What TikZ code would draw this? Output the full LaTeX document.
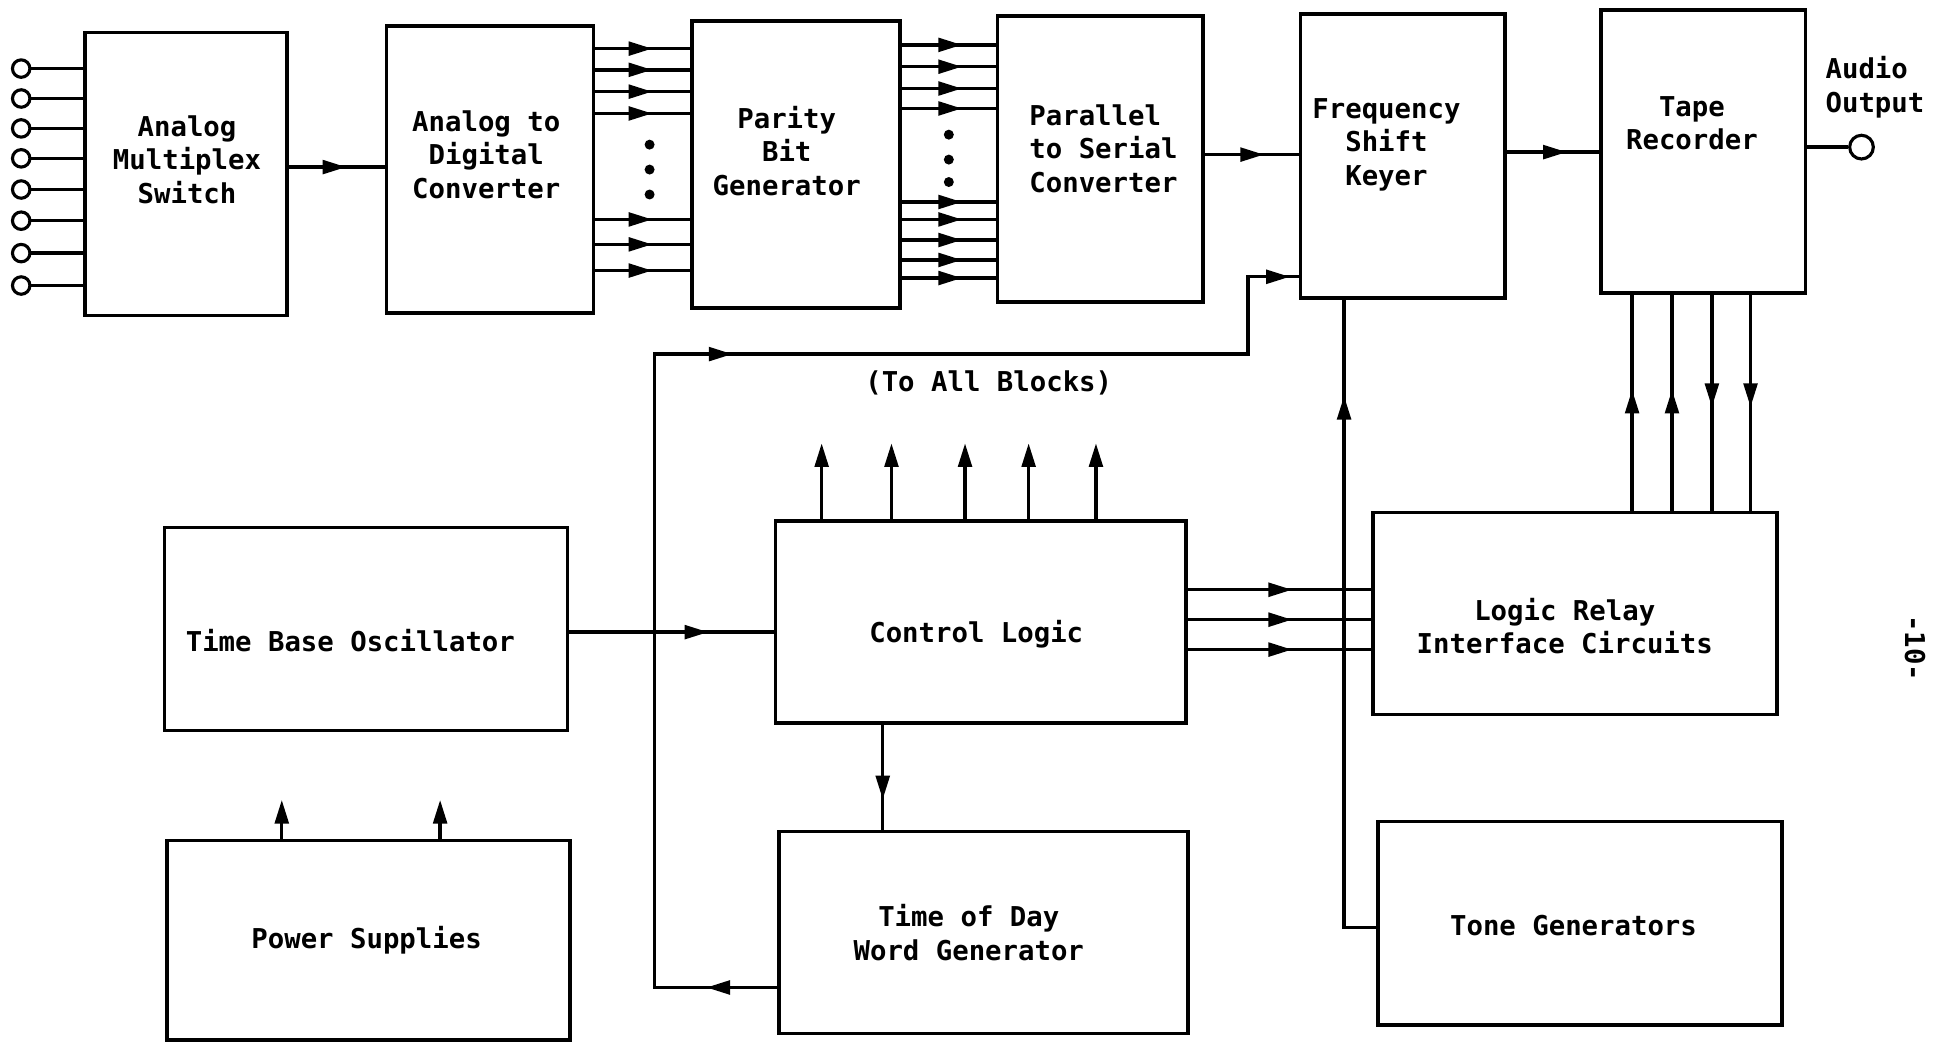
\documentclass[tikz,border=0pt]{standalone}
\usepackage{fontspec}
\setmonofont{DejaVu Sans Mono}
\usetikzlibrary{arrows.meta,decorations.markings,calc}
\begin{document}
\begin{tikzpicture}[x=1bp,y=-1bp,
 box/.style={draw, line width=2.9bp, inner sep=0pt},
 lbl/.style={font=\ttfamily\bfseries\fontsize{22}{27}\selectfont, align=center, inner sep=0pt},
 conn/.style={line width=2.7bp},
 marr/.style={postaction={decorate, decoration={markings, mark=at position #1 with {\arrow{Triangle[length=19bp,width=11bp]}}}}},
 tipend/.style={-{Triangle[length=19bp,width=11bp]}},
 inpin/.style={circle, draw, line width=2.5bp, minimum size=14bp, inner sep=0pt},
 dotmark/.style={circle, fill, minimum size=8bp, inner sep=0pt},
]
\useasboundingbox[fill=white] (0,0) rectangle (1568,838);

% boxes
\node[box, minimum width=162bp, minimum height=227bp] (mux) at (149,139.5) {};
\node[box, minimum width=166bp, minimum height=230bp] (adc) at (393,136) {};
\node[box, minimum width=167bp, minimum height=230bp] (par) at (638.5,132) {};
\node[box, minimum width=165bp, minimum height=229bp] (pts) at (882.5,127.5) {};
\node[box, minimum width=164bp, minimum height=228bp] (fsk) at (1125,125) {};
\node[box, minimum width=164bp, minimum height=227bp] (tape) at (1366,121.5) {};
\node[box, minimum width=323bp, minimum height=163bp] (tbo) at (293.5,504.5) {};
\node[box, minimum width=323bp, minimum height=160bp] (pwr) at (295.5,754) {};
\node[box, minimum width=329bp, minimum height=162bp] (ctl) at (786.5,499) {};
\node[box, minimum width=328bp, minimum height=162bp] (tod) at (789,748) {};
\node[box, minimum width=324bp, minimum height=162bp] (lric) at (1263,492) {};
\node[box, minimum width=324bp, minimum height=163bp] (tone) at (1267,740.5) {};

% labels
\node[lbl] (muxt) at (150,128) {Analog\\Multiplex\\Switch};
\node[lbl] (adct) at (390,124) {Analog to\\Digital\\Converter};
\node[lbl] (part) at (631,121) {Parity\\Bit\\Generator};
\node[lbl, align=left] (ptst) at (885,119) {Parallel\\to Serial\\Converter};
\node[lbl] (fskt) at (1112,116) {Frequency\\Shift\\Keyer};
\node[lbl] (tapet) at (1357,99) {Tape\\Recorder};
\node[lbl, align=left, anchor=west] (audt) at (1464,70) {Audio\\Output};
\node[lbl] (tbot) at (281,514) {Time Base Oscillator};
\node[lbl] (pwrt) at (294,754) {Power Supplies};
\node[lbl] (ctlt) at (783,509) {Control Logic};
\node[lbl] (todt) at (777,748) {Time of Day\\Word Generator};
\node[lbl] (lrict) at (1255,502) {Logic Relay\\Interface Circuits};
\node[lbl] (tonet) at (1262,742) {Tone Generators};
\node[lbl] (allt) at (793,307) {(To All Blocks)};
\node[lbl, rotate=-90] (pg) at (1536,520) {-10-};

% input pins
\foreach \i/\y in {1/55,2/79,3/103,4/127,5/152,6/177,7/203,8/229}{
  \node[inpin] (in\i) at (17,\y) {};
  \draw[conn] (in\i) -- (mux.west |- in\i);
}
\draw[conn, marr=0.6] (mux.east |- 0,134) -- (adc.west |- 0,134);

% ADC -> parity
\foreach \y in {39,56,73.5,91,176,196,217}{
  \draw[conn, marr=0.6] (adc.east |- 0,\y) -- (par.west |- 0,\y);
}
\foreach \y/\n in {116/a,136/b,156/c}{\node[dotmark] (d1\n) at (521,\y) {};}

% parity -> p/s
\foreach \y in {36,53.5,71,87,162,176,192.5,208.5,223}{
  \draw[conn, marr=0.64] (par.east |- 0,\y) -- (pts.west |- 0,\y);
}
\foreach \y/\n in {108/a,128/b,146/c}{\node[dotmark] (d2\n) at (761,\y) {};}

\draw[conn, marr=0.63] (pts.east |- 0,124) -- (fsk.west |- 0,124);
\draw[conn, marr=0.65] (fsk.east |- 0,122) -- (tape.west |- 0,122);

% audio output
\node[inpin, minimum size=19bp] (aout) at (1493,118) {};
\draw[conn] (tape.east |- aout) -- (aout);

% time base -> control
\draw[conn, marr=0.68] (tbo.east |- 0,507) -- (ctl.west |- 0,507);
% control -> tod
\draw[conn, marr=0.71] (ctl.south -| 708,0) -- (tod.north -| 708,0);
% control -> all blocks
\foreach \x in {659,715,774,825,879}{
  \draw[conn, tipend] (ctl.north -| \x,0) -- ++(0,-61);
}
% power supplies up arrows
\foreach \x in {226,353}{
  \draw[conn, tipend] (pwr.north -| \x,0) -- ++(0,-31);
}
% control -> logic relay
\foreach \y in {473,497,521}{
  \draw[conn, marr=0.57] (ctl.east |- 0,\y) -- (lric.west |- 0,\y);
}
% tape <-> logic relay
\foreach \x in {1309,1341}{
  \draw[conn, marr=0.56] (lric.north -| \x,0) -- (tape.south -| \x,0);
}
\foreach \x in {1373,1404}{
  \draw[conn, marr=0.52] (tape.south -| \x,0) -- (lric.north -| \x,0);
}
% tone generators -> FSK
\coordinate (tn) at (1078,744);
\draw[conn, marr=452bp] (tone.west |- tn) -- (tn) -- (tn |- fsk.south);

% loop: TOD -> left -> top -> FSK
\coordinate (cA) at (525,792);
\coordinate (cB) at (525,284);
\coordinate (cC) at (1001,284);
\coordinate (cD) at (1001,222);
\draw[conn, postaction={decorate, decoration={markings,
   mark=at position 57bp with {\arrow{Triangle[length=19bp,width=11bp]}},
   mark=at position 669bp with {\arrow{Triangle[length=19bp,width=11bp]}},
   mark=at position 1178bp with {\arrow{Triangle[length=19bp,width=11bp]}}}}]
  (tod.west |- cA) -- (cA) -- (cB) -- (cC) -- (cD) -- (fsk.west |- cD);
\end{tikzpicture}
\end{document}
